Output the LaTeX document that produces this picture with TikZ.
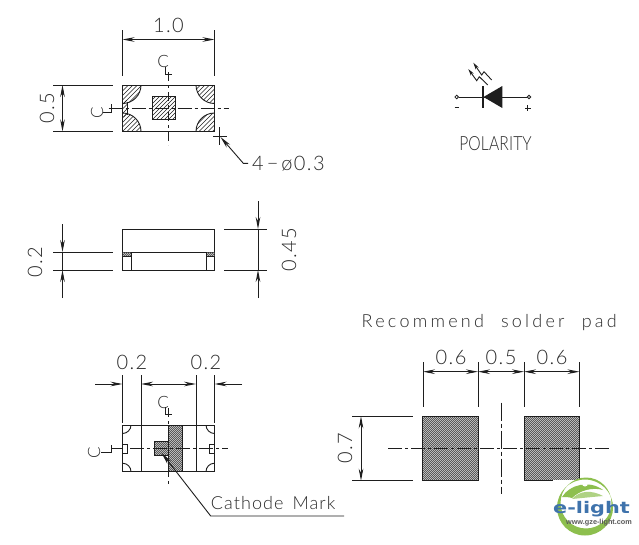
\documentclass[tikz,border=0pt]{standalone}
\usepackage{graphicx}
\usepackage{fontspec}
\setmainfont{Liberation Sans}
\newfontfamily\logofont{DejaVu Sans}[BoldFont={DejaVu Sans Bold}]
\newfontfamily\urlfont{Liberation Sans}[BoldFont={Liberation Sans Bold}]
\newfontfamily\dimfont{Lato Light}[LetterSpace=7]
\newfontfamily\widefont{Lato Light}[LetterSpace=18]
\newfontfamily\cathfont{Lato Light}[LetterSpace=6]
\newfontfamily\polfont{Lato Light}[LetterSpace=1]
\usetikzlibrary{arrows.meta}
\definecolor{ink}{HTML}{1E1E1E}
\definecolor{txt}{HTML}{2A2A2A}
\definecolor{logogreen}{HTML}{8DBF4E}
\definecolor{logoblue}{HTML}{3F73AC}
\tikzset{
  ln/.style={draw=ink,line width=0.9pt},
  dim/.style={ln,{Stealth[length=12pt,width=4.6pt]}-{Stealth[length=12pt,width=4.6pt]}},
  tipend/.style={ln,-{Stealth[length=12pt,width=4.6pt]}},
  cl/.style={ln,dash pattern=on 14pt off 3pt on 3pt off 3pt},
  dlabel/.style={inner sep=0pt,text=txt,font=\dimfont\fontsize{20}{20}\selectfont},
  wlabel/.style={inner sep=0pt,text=txt,font=\widefont\fontsize{18}{18}\selectfont},
  cmlabel/.style={inner sep=0pt,text=txt,font=\cathfont\fontsize{18}{18}\selectfont},
  clabel/.style={inner sep=0pt,text=txt,font=\polfont\fontsize{17}{17}\selectfont},
  hat/.style={draw=ink,line width=0.6pt},
  dense/.style={draw=black!65,line width=0.8pt},
}
\newcommand\hatchfill[3]{\foreach \k in {#1,#2,...,#3}{\draw[hat] (\k,0) -- (0,\k);}}
\newcommand\densefill[2]{\foreach \k in {#1,...,#2}{\draw[dense] (\k,0) -- (0,\k);}}
\begin{document}
\begin{tikzpicture}[x=1pt,y=-1pt]
\useasboundingbox (0,0) rectangle (639,544);
\fill[white] (0,0) rectangle (639,544);

%% ---- top view
\foreach \cx/\cy in {122.5/85,214.5/85,122.5/131.5,214.5/131.5}{
  \begin{scope}
    \clip (122.5,85) rectangle (214.5,131.5);
    \clip (\cx,\cy) circle[radius=18.5pt];
    \hatchfill{200}{204.5}{360}
  \end{scope}
  \begin{scope}
    \clip (122.5,85) rectangle (214.5,131.5);
    \draw[ln] (\cx,\cy) circle[radius=18.5pt];
  \end{scope}
}
\begin{scope}
  \clip (122.5,100) rectangle (127,116);
  \hatchfill{200}{204.5}{360}
\end{scope}
\draw[ln] (127,102) -- (127,115);
\draw[ln] (122.5,85) rectangle (214.5,131.5);
\begin{scope}
  \clip (152.5,96.5) rectangle (175.5,119.5);
  \hatchfill{240}{244}{310}
\end{scope}
\draw[ln] (152.5,96.5) rectangle (175.5,119.5);
\draw[cl] (108.5,108) -- (228.5,108);
\draw[ln,dash pattern=on 9pt off 4pt on 3pt off 4pt] (168.5,72) -- (168.5,145);
% 1.0
\draw[ln] (122.5,30) -- (122.5,76);
\draw[ln] (214.5,30) -- (214.5,76);
\draw[dim] (122.5,39.5) -- (214.5,39.5);
\node[dlabel] (t10) at (168.5,25) {1.0};
% 0.5
\draw[ln] (53,85) -- (113,85);
\draw[ln] (53,131.5) -- (113,131.5);
\draw[dim] (62.5,85) -- (62.5,131.5);
\node[dlabel,rotate=90] (t05) at (47,108) {0.5};
% C-L top
\node[clabel] (c1) at (163,61) {C};
\draw[ln] (165,67) -- (165,74.5) -- (172,74.5);
% C-L left
\node[clabel,rotate=90] (c2) at (97,113) {C};
\draw[ln] (103,112) -- (111,112) -- (111,104);
% cross and leader
\draw[ln] (213,136) -- (227,136);
\draw[ln] (219.3,127) -- (219.3,145);
\draw[ln,{Stealth[length=12pt,width=4.6pt]}-] (220.5,137) -- (243.3,163.3) -- (248,163.3);
\node[dlabel,anchor=west] (t4) at (252,163.5) {4\hspace{3pt}−\hspace{3pt}ø0.3};

%% ---- side view
\draw[ln] (122.5,229) rectangle (214.5,270);
\draw[ln] (122.5,252) -- (214.5,252);
\foreach \a/\b in {122.5/131,206/214.5}{
  \begin{scope}
    \clip (\a,252) rectangle (\b,256.5);
    \densefill{370,372}{480}
  \end{scope}
  \draw[ln] (\a,256.5) -- (\b,256.5);
}
\draw[ln] (131,252) -- (131,270);
\draw[ln] (206,252) -- (206,270);
\draw[ln] (53,252) -- (113,252);
\draw[ln] (53,270) -- (113,270);
\draw[tipend] (62.5,224) -- (62.5,252);
\draw[tipend] (62.5,298) -- (62.5,270);
\draw[ln] (62.5,252) -- (62.5,270);
\node[dlabel,rotate=90] (t02) at (35,262) {0.2};
\draw[ln] (224,229) -- (267,229);
\draw[ln] (224,270) -- (267,270);
\draw[tipend] (258,201) -- (258,229);
\draw[tipend] (258,298) -- (258,270);
\draw[ln] (258,229) -- (258,270);
\node[dlabel,rotate=90] (t045) at (289,250) {0.45};

%% ---- bottom view
\begin{scope}
  \clip (168.3,425) rectangle (182.3,471.7);
  \densefill{590,592}{660}
\end{scope}
\draw[ln] (168.3,425) rectangle (182.3,471.7);
\begin{scope}
  \clip (154.3,441.7) rectangle (168.3,455.7);
  \densefill{590,592}{630}
\end{scope}
\draw[ln] (154.3,441.7) rectangle (168.3,455.7);
\foreach \cx/\cy in {122.5/425,214.5/425,122.5/471.7,214.5/471.7}{
  \begin{scope}
    \clip (122.5,425) rectangle (214.5,471.7);
    \draw[ln] (\cx,\cy) circle[radius=8.5pt];
  \end{scope}
}
\draw[ln] (122.5,425) rectangle (214.5,471.7);
\draw[ln] (141,375) -- (141,471.7);
\draw[ln] (196,375) -- (196,471.7);
\draw[ln] (122.5,375) -- (122.5,423);
\draw[ln] (214.5,375) -- (214.5,423);
\draw[ln] (122.5,444.3) rectangle (127.7,453.3);
\draw[ln] (209.7,444.3) rectangle (214.5,453.3);
\draw[ln,line width=1.3pt] (112,448.5) -- (122.5,448.5);
\draw[cl] (130,448.5) -- (228,448.5);
\draw[ln,dash pattern=on 9pt off 4pt on 3pt off 4pt] (168.3,408) -- (168.3,485.7);
\draw[tipend] (95,384) -- (122.5,384);
\draw[tipend] (242,384) -- (214.5,384);
\draw[dim] (141,384) -- (196,384);
\node[dlabel] (t02a) at (132,362) {0.2};
\node[dlabel] (t02b) at (206,362) {0.2};
\node[clabel] (c3) at (163,402) {C};
\draw[ln] (165,407) -- (165,414.5) -- (172,414.5);
\node[clabel,rotate=90] (c4) at (94,453) {C};
\draw[ln] (101,452) -- (111,452) -- (111,445);
\draw[ln,{Stealth[length=12pt,width=4.6pt]}-] (161.7,453) -- (210.7,516) -- (344,516);
\node[cmlabel,anchor=west] (tcm) at (210.7,503) {Cathode\hspace{3pt} Mark};

%% ---- polarity
\draw[ln] (458.5,97) -- (527,97);
\draw[ln,line width=0.8pt] (456.7,97) circle[radius=1.8pt];
\draw[ln,line width=0.8pt] (529,97) circle[radius=1.8pt];
\fill[ink] (483.5,97) -- (502.3,86) -- (502.3,108) -- cycle;
\draw[ln,line width=1.2pt] (483,86) -- (483,107.7);
\draw[ln,-{Stealth[length=7pt,width=3.6pt]}] (491.7,80) -- (484,71.7) -- (481.7,75) -- (473.3,62.7);
\draw[ln,-{Stealth[length=7pt,width=3.6pt]}] (487.7,85) -- (479.3,76.7) -- (476.7,80.7) -- (468.3,69);
\draw[ln] (454.5,107) -- (459,107);
\draw[ln] (525,108) -- (530.5,108);
\draw[ln] (527.7,105.3) -- (527.7,110.7);
\node[inner sep=0pt,text=txt,font=\polfont\fontsize{19.5}{20}\selectfont] (tpol) at (495.5,144) {\scalebox{0.8}[1]{POLARITY}};

%% ---- solder pad
\node[wlabel,anchor=west] (trec) at (361.5,323) {Recommend\hspace{9pt} solder\hspace{9pt} pad};
\foreach \a/\b/\lo/\hi in {422.7/478.3/840/1000,524.3/579.7/940/1100}{
  \begin{scope}
    \clip (\a,416.3) rectangle (\b,480.7);
    \densefill{\lo,\the\numexpr\lo+2\relax}{\hi}
  \end{scope}
  \draw[ln] (\a,416.3) rectangle (\b,480.7);
}
\draw[cl] (388,448.5) -- (611,448.5);
\draw[ln,dash pattern=on 18pt off 3pt on 4pt off 3pt] (501,402.7) -- (501,494.3);
\foreach \x in {423,478,524,579.5}{\draw[ln] (\x,362) -- (\x,406.7);}
\draw[dim] (423,371.7) -- (478,371.7);
\draw[dim] (478,371.7) -- (524,371.7);
\draw[dim] (524,371.7) -- (579.5,371.7);
\node[dlabel] (t06a) at (451,357) {0.6};
\node[dlabel] (t05b) at (501,357) {0.5};
\node[dlabel] (t06b) at (552,357) {0.6};
\draw[ln] (352,416.3) -- (413,416.3);
\draw[ln] (352,480.7) -- (413,480.7);
\draw[dim] (361,416.3) -- (361,480.7);
\node[dlabel,rotate=90] (t07) at (345,448.5) {0.7};

%% ---- logo
\fill[white] (553,480) rectangle (639,544);
\fill[logogreen,even odd rule] (585,507.5) circle[radius=28pt] (586,503) circle[radius=25.5pt];
\fill[logogreen] (562,497) .. controls (570,484) and (590,480) .. (603,490)
  .. controls (593,487) and (580,490) .. (572,498)
  .. controls (569,497) and (565,497) .. (562,497) -- cycle;
\fill[logogreen!70!white] (572,499) .. controls (580,490) and (592,490) .. (603,496)
  .. controls (592,497) and (582,498) .. (572,499) -- cycle;
\fill[white] (585,483.5) circle[radius=3pt];
\node[inner sep=0pt,text=logoblue,text depth=0pt,anchor=base,font=\logofont\bfseries\fontsize{16}{16}\selectfont] (tlogo) at (591.5,513) {\scalebox{1.3}[1]{e-light}};
\node[inner sep=0pt,text=black!65,text height=5pt,text depth=0pt,anchor=base,font=\urlfont\bfseries\fontsize{7.3}{8}\selectfont] (turl) at (599,524) {www.gze-light.com};
\end{tikzpicture}
\end{document}
